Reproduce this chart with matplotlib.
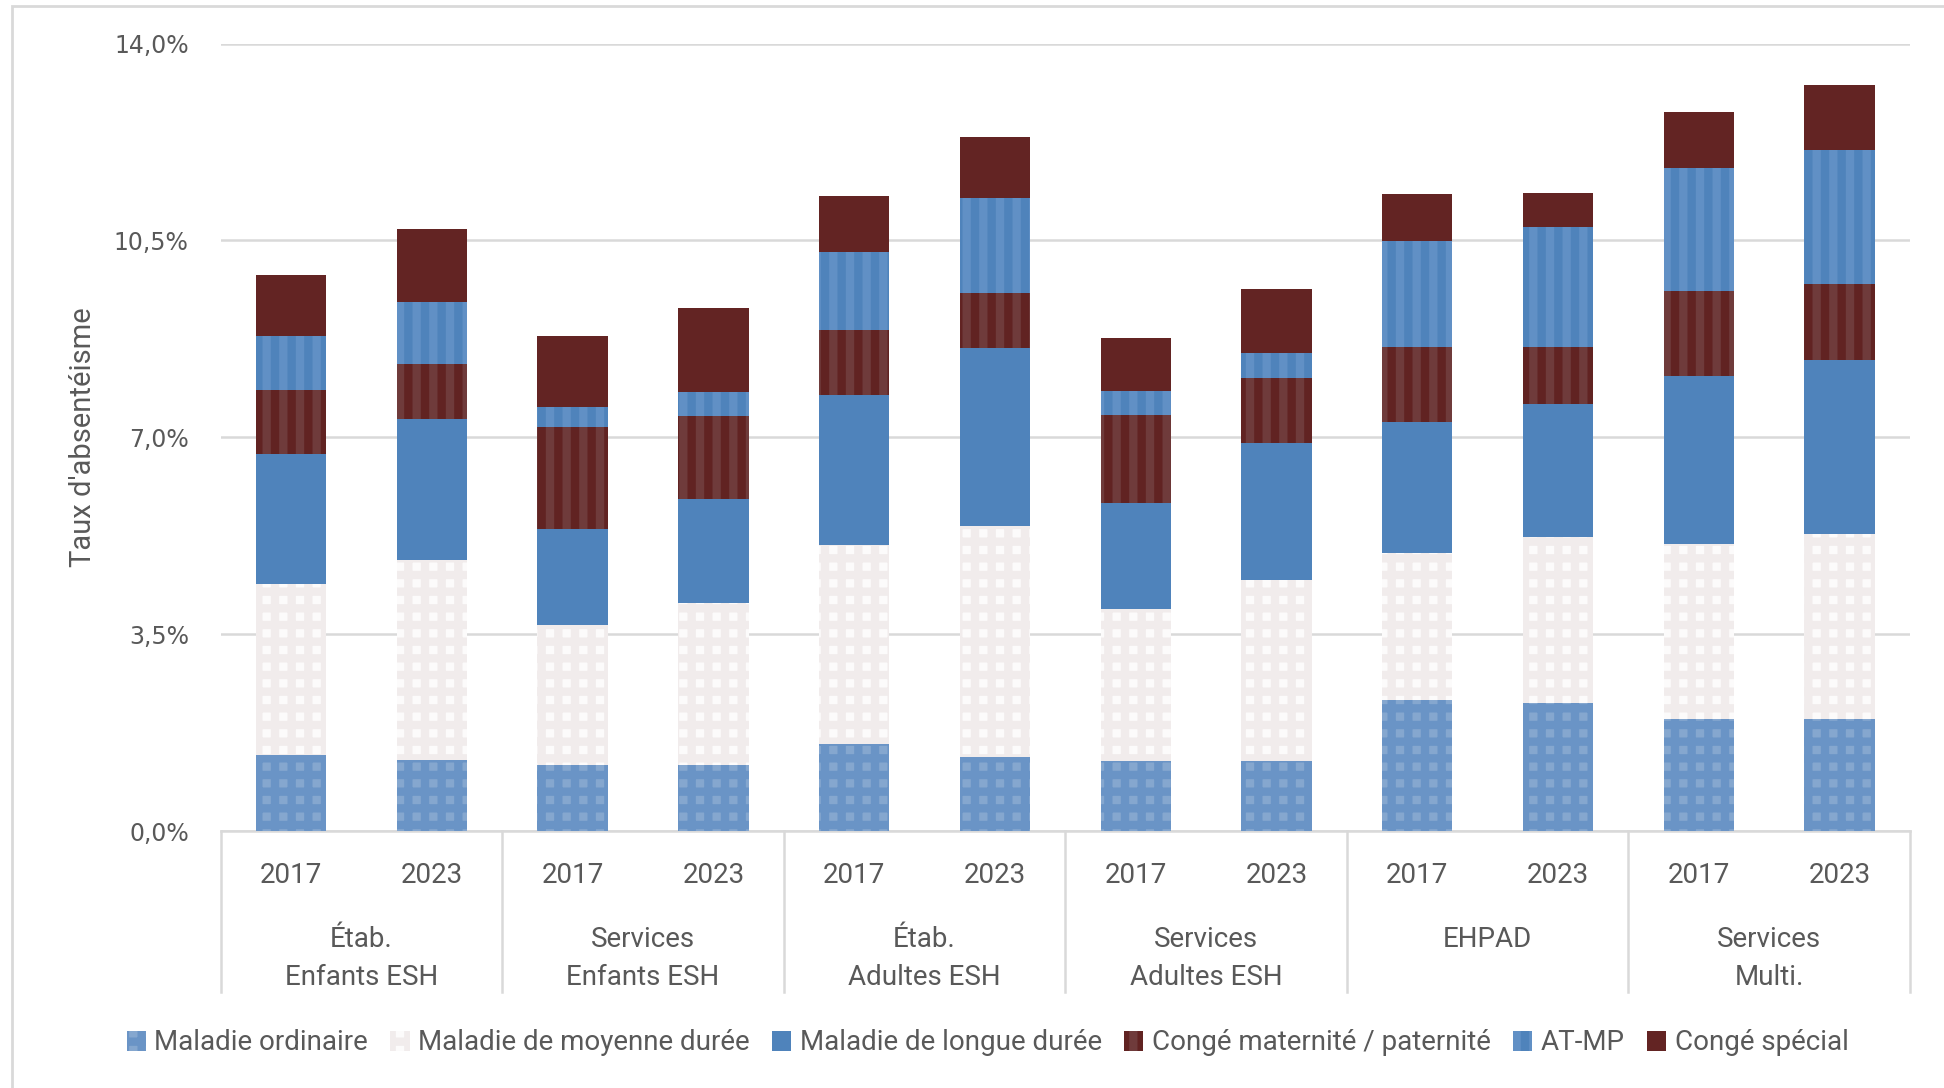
import matplotlib
matplotlib.use("Agg")
import matplotlib.pyplot as plt
import matplotlib.transforms as mtransforms
from matplotlib.patches import Patch, Rectangle
import numpy as np

groups = ["Étab.\nEnfants ESH", "Services\nEnfants ESH", "Étab.\nAdultes ESH",
          "Services\nAdultes ESH", "EHPAD", "Services\nMulti."]
years = ["2017", "2023"]

# values in % (one per bar: group x year, in order)
maladie_ordinaire = [1.35, 1.26, 1.17, 1.17, 1.55, 1.31, 1.24, 1.24, 2.33, 2.28, 2.00, 2.00]
maladie_moyenne = [3.04, 3.55, 2.49, 2.88, 3.54, 4.12, 2.71, 3.23, 2.62, 2.95, 3.10, 3.28]
maladie_longue = [2.32, 2.51, 1.71, 1.85, 2.67, 3.15, 1.89, 2.42, 2.32, 2.37, 2.99, 3.09]
conge_maternite = [1.13, 0.98, 1.81, 1.48, 1.14, 0.99, 1.56, 1.17, 1.33, 1.00, 1.51, 1.36]
at_mp = [0.96, 1.10, 0.35, 0.43, 1.40, 1.68, 0.43, 0.43, 1.89, 2.13, 2.18, 2.38]
conge_special = [1.08, 1.31, 1.27, 1.48, 0.99, 1.09, 0.94, 1.14, 0.83, 0.62, 1.00, 1.15]

series = [
    ("Maladie ordinaire", maladie_ordinaire, "#85a7cf", "#6a94c6", "+"),
    ("Maladie de moyenne durée", maladie_moyenne, "#fcfbfb", "#f1ecec", "+"),
    ("Maladie de longue durée", maladie_longue, "#4f83bb", None, None),
    ("Congé maternité / paternité", conge_maternite, "#6f3b3b", "#612322", "|"),
    ("AT-MP", at_mp, "#6190c5", "#4f83bb", "|"),
    ("Congé spécial", conge_special, "#632423", None, None),
]

plt.rcParams["hatch.linewidth"] = 6
NARROW = ["Roboto", "DejaVu Sans"]
GREY = "#595959"

W, H = 1944, 1088
fig = plt.figure(figsize=(W / 100, H / 100), dpi=100)
ax = fig.add_axes([220.7 / W, 1 - 831 / H, (1910 - 220.7) / W, (831 - 43.5) / H])

x = np.arange(len(maladie_ordinaire))
bottom = np.zeros(len(x))
for name, vals, face, hcol, hatch in series:
    vals = np.array(vals)
    if hatch:
        ax.bar(x, vals, 0.5, bottom=bottom, color=face, edgecolor=hcol,
               hatch=hatch, linewidth=0, zorder=3)
    else:
        ax.bar(x, vals, 0.5, bottom=bottom, color=face, linewidth=0, zorder=3)
    bottom += vals

ax.set_xlim(-0.5, len(x) - 0.5)
ax.set_ylim(0, 14)
ax.set_yticks([0, 3.5, 7, 10.5, 14])
ax.set_yticklabels(["0,0%", "3,5%", "7,0%", "10,5%", "14,0%"])
ax.tick_params(axis="y", length=0, pad=23, labelsize=17, labelcolor=GREY)
ax.grid(axis="y", color="#d9d9d9", linewidth=1.8, zorder=0)
for s in ["top", "right", "left"]:
    ax.spines[s].set_visible(False)
ax.spines["bottom"].set_color("#d9d9d9")
ax.spines["bottom"].set_linewidth(1.8)

ax.set_xticks(x)
ax.set_xticklabels(years * len(groups), fontfamily=NARROW)
ax.tick_params(axis="x", length=0, pad=22, labelsize=20, labelcolor=GREY)

ax.set_ylabel("Taux d'absentéisme", fontsize=21, color=GREY, family=NARROW, labelpad=12)

# category level labels (top-aligned, like Excel) and separators
trans = mtransforms.blended_transform_factory(ax.transData, ax.transAxes)
for i, g in enumerate(groups):
    ax.text(2 * i + 0.5, -0.121, g, transform=trans, ha="center", va="top",
            fontsize=20, color=GREY, family=NARROW, linespacing=1.5)
sep_bottom = -(992 - 831) / (831 - 43.5)
for k in range(len(groups) + 1):
    xs = 2 * k - 0.5
    ax.plot([xs, xs], [0, sep_bottom], transform=trans, color="#d9d9d9",
            linewidth=1.8, clip_on=False)

handles = [Patch(facecolor=face, edgecolor=hcol if hcol else face, hatch=hatch,
                 linewidth=0, label=name) for name, _, face, hcol, hatch in series]
fig.legend(handles=handles, loc="center", bbox_to_anchor=(0.508, 1 - 1043 / H),
           ncol=6, frameon=False, handlelength=0.7, handleheight=0.7,
           handletextpad=0.3, columnspacing=0.8,
           prop={"family": NARROW, "size": 20}, labelcolor=GREY)

# chart border
fig.patches.append(Rectangle((12 / W, -0.1), 1.2, 1 - 6 / H + 0.1, transform=fig.transFigure,
                             fill=False, edgecolor="#d9d9d9", linewidth=2))

fig.savefig("out.png", dpi=100)
